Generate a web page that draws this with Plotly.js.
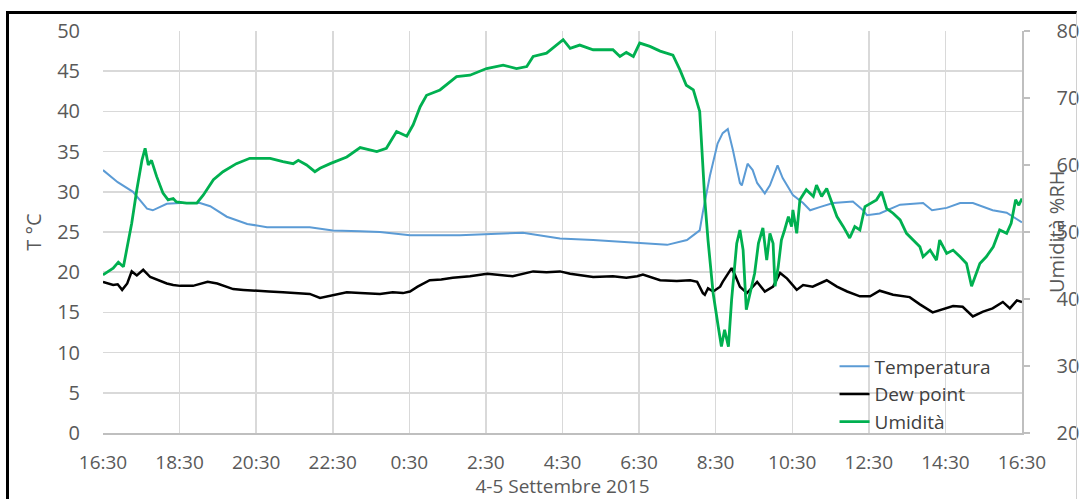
<!DOCTYPE html>
<html>
<head>
<meta charset="utf-8">
<script src="https://cdn.plot.ly/plotly-3.0.1.min.js"></script>
<style>
html,body{margin:0;padding:0;background:#fff;overflow:hidden;}
#wrap{position:relative;width:1079px;height:499px;}
#chart{width:1079px;height:499px;}
#frame{position:absolute;left:6px;top:11px;width:1071px;height:500px;border-top:3px solid #000;border-left:3px solid #000;border-right:1px solid #d0d0d0;box-sizing:border-box;pointer-events:none;}
</style>
</head>
<body>
<div id="wrap"><div id="chart"></div><div id="frame"></div></div>
<script>
// Temperatura (°C, left axis)
const tempTimes = ['16:30','16:53','17:17','17:39','17:48','18:10','18:31','19:02','19:18','19:44','20:16','20:47','21:54','22:30','23:13','23:44','0:31','1:49','3:28','4:26','5:18','6:31','7:14','7:45','8:05','8:10','8:21','8:33','8:41','8:49','8:57','9:08','9:11','9:20','9:28','9:35','9:47','9:55','10:07','10:15','10:31','10:47','10:58','11:13','11:34','12:05','12:21','12:27','12:47','13:19','13:55','14:09','14:32','14:53','15:13','15:44','16:06','16:30'];
const tempValues = [32.7,31.2,30.0,27.9,27.7,28.5,28.6,28.6,28.2,26.9,26.0,25.6,25.6,25.2,25.1,25.0,24.6,24.6,24.9,24.2,24.0,23.6,23.4,24.0,25.2,27.5,32.0,36.0,37.3,37.8,35.2,31.1,30.8,33.5,32.7,31.1,29.8,30.8,33.3,31.7,29.6,28.6,27.7,28.1,28.6,28.8,27.7,27.1,27.3,28.4,28.6,27.7,28.0,28.6,28.6,27.7,27.4,26.2];

// Dew point (°C, left axis)
const dewTimes = ['16:30','16:38','16:46','16:53','17:00','17:08','17:15','17:23','17:33','17:44','17:57','18:10','18:20','18:31','18:51','19:14','19:29','19:54','20:10','20:25','20:50','21:12','21:35','21:54','22:10','22:30','22:52','23:13','23:44','0:04','0:20','0:31','0:43','1:02','1:20','1:38','2:05','2:32','2:50','3:12','3:44','4:05','4:26','4:42','5:18','5:49','6:10','6:27','6:36','7:03','7:29','7:50','8:01','8:10','8:13','8:18','8:26','8:37','8:41','8:55','9:00','9:08','9:19','9:35','9:47','10:00','10:11','10:22','10:37','10:47','11:02','11:24','11:40','11:56','12:16','12:32','12:47','13:08','13:34','13:50','14:10','14:32','14:42','14:57','15:13','15:29','15:44','16:00','16:11','16:22','16:30'];
const dewValues = [18.8,18.6,18.4,18.5,17.8,18.6,20.1,19.6,20.3,19.4,19.0,18.6,18.4,18.3,18.3,18.8,18.6,17.9,17.8,17.7,17.6,17.5,17.4,17.3,16.8,17.1,17.5,17.4,17.3,17.5,17.4,17.6,18.2,19.0,19.1,19.3,19.5,19.8,19.7,19.5,20.1,20.0,20.1,19.8,19.4,19.5,19.3,19.5,19.7,19.0,18.9,19.0,18.8,17.4,17.2,18.0,17.6,18.2,18.8,20.5,19.7,18.2,17.4,18.8,17.6,18.2,19.9,19.2,17.8,18.4,18.2,19.0,18.2,17.6,17.0,17.0,17.7,17.2,16.9,16.0,15.0,15.5,15.8,15.7,14.5,15.1,15.5,16.3,15.5,16.5,16.3];

// Umidità (%RH, right axis)
const rhTimes = ['16:30','16:38','16:46','16:54','17:02','17:07','17:15','17:23','17:31','17:36','17:41','17:46','17:54','18:04','18:12','18:20','18:25','18:41','18:57','19:07','19:23','19:38','19:59','20:20','20:52','21:12','21:28','21:36','21:49','22:02','22:10','22:26','22:52','23:13','23:39','23:54','0:10','0:26','0:36','0:47','0:57','1:18','1:44','2:05','2:31','2:57','3:18','3:34','3:44','4:05','4:31','4:42','4:57','5:18','5:49','6:00','6:10','6:21','6:31','6:47','7:03','7:23','7:34','7:44','7:55','8:05','8:10','8:13','8:18','8:26','8:34','8:39','8:44','8:50','8:55','9:03','9:08','9:13','9:18','9:26','9:31','9:37','9:44','9:50','9:55','10:00','10:03','10:08','10:13','10:18','10:24','10:29','10:31','10:37','10:42','10:52','11:03','11:08','11:16','11:24','11:32','11:40','11:50','12:00','12:08','12:16','12:24','12:34','12:42','12:50','12:58','13:08','13:19','13:29','13:39','13:50','13:55','14:06','14:16','14:21','14:32','14:42','14:53','15:03','15:11','15:16','15:24','15:34','15:45','15:55','16:06','16:13','16:20','16:25','16:30'];
const rhValues = [43.6,44.1,44.6,45.5,44.8,47.3,51.3,56.3,60.7,62.5,60.0,60.7,58.3,55.8,54.8,55.0,54.5,54.3,54.3,55.5,57.8,59.0,60.2,61.0,61.0,60.5,60.2,60.7,60.0,59.0,59.5,60.2,61.2,62.6,62.0,62.5,65.0,64.3,66.0,68.7,70.4,71.2,73.2,73.4,74.4,74.9,74.4,74.7,76.2,76.7,78.7,77.4,77.9,77.2,77.2,76.2,76.8,76.2,78.2,77.7,77.0,76.4,74.2,71.9,71.2,68.0,59.7,54.8,48.8,40.9,35.9,32.9,35.4,32.9,39.9,48.3,50.3,47.3,38.4,41.9,43.8,48.3,50.6,45.8,49.8,48.3,41.9,44.8,48.8,50.3,52.3,50.8,53.3,49.8,54.8,56.3,55.3,57.0,55.3,56.5,54.3,52.3,50.8,49.1,50.8,50.3,53.8,54.3,54.8,56.0,53.5,52.8,51.8,49.8,48.8,47.8,46.3,47.3,45.8,48.8,46.8,47.3,46.3,45.3,41.9,43.3,45.3,46.3,47.8,50.3,49.8,51.3,54.8,54.0,55.0];

const xTickFirst = '2015-09-04 16:30';
const xTickLast = '2015-09-05 16:30';
const xTitle = '4-5 Settembre 2015';
const yTitle = 'T °C';
const y2Title = 'Umidità %RH';
const seriesNames = ['Temperatura','Dew point','Umidità'];

function toDates(times){
  let day = 4, prev = -1;
  return times.map(t => {
    const [h, m] = t.split(':').map(Number);
    const mins = h*60 + m;
    if (mins < prev) day += 1;
    prev = mins;
    return '2015-09-0' + day + ' ' + String(h).padStart(2,'0') + ':' + String(m).padStart(2,'0');
  });
}

const tickFont = {family:'Open Sans, sans-serif', size:20, color:'#595959'};
const xTickFont = {family:'Open Sans, sans-serif', size:19, color:'#595959'};

const traces = [
  {x: toDates(tempTimes), y: tempValues, name: seriesNames[0], type:'scatter', mode:'lines',
   line:{color:'#5B9BD5', width:2}, yaxis:'y'},
  {x: toDates(dewTimes), y: dewValues, name: seriesNames[1], type:'scatter', mode:'lines',
   line:{color:'#000000', width:2.5}, yaxis:'y'},
  {x: toDates(rhTimes), y: rhValues, name: seriesNames[2], type:'scatter', mode:'lines',
   line:{color:'#00B050', width:2.8}, yaxis:'y2'}
];

const layout = {
  width:1079, height:499,
  margin:{l:103, r:57, t:31, b:66},
  paper_bgcolor:'rgba(0,0,0,0)', plot_bgcolor:'#ffffff',
  showlegend:true,
  legend:{x:0.796, y:0.213, xanchor:'left', yanchor:'top', bgcolor:'rgba(0,0,0,0)',
          font:{family:'Open Sans, sans-serif', size:19, color:'#404040'},
          tracegroupgap:0},
  xaxis:{type:'date', range:[xTickFirst, xTickLast], tick0:xTickFirst, dtick:7200000,
         tickformat:'%-H:%M', showgrid:true, gridcolor:'#d9d9d9', gridwidth:1.5,
         showline:true, linecolor:'#bfbfbf', linewidth:1.5, ticks:'', zeroline:false,
         tickfont:xTickFont, ticklabelstandoff:12,
         title:{text:xTitle, font:xTickFont, standoff:3}},
  yaxis:{range:[0,50], dtick:5, showgrid:true, gridcolor:'#d9d9d9', gridwidth:1.5,
         zeroline:false, showline:false, ticks:'', tickfont:tickFont, ticklabelstandoff:22,
         title:{text:yTitle, font:tickFont, standoff:10}},
  yaxis2:{range:[20,80], dtick:10, overlaying:'y', side:'right', showgrid:false, zeroline:false,
          showline:true, linecolor:'#bfbfbf', linewidth:1.5, ticks:'outside', ticklen:6,
          tickcolor:'#bfbfbf', tickwidth:1.5, tickfont:tickFont, ticklabelstandoff:23},
  annotations:[{xref:'paper', yref:'paper', x:1.0, xshift:34, y:0.5, text:y2Title, textangle:-90,
                showarrow:false, font:tickFont, xanchor:'center', yanchor:'middle'}]
};

Plotly.newPlot('chart', traces, layout, {staticPlot:true, displayModeBar:false});
</script>
</body>
</html>
